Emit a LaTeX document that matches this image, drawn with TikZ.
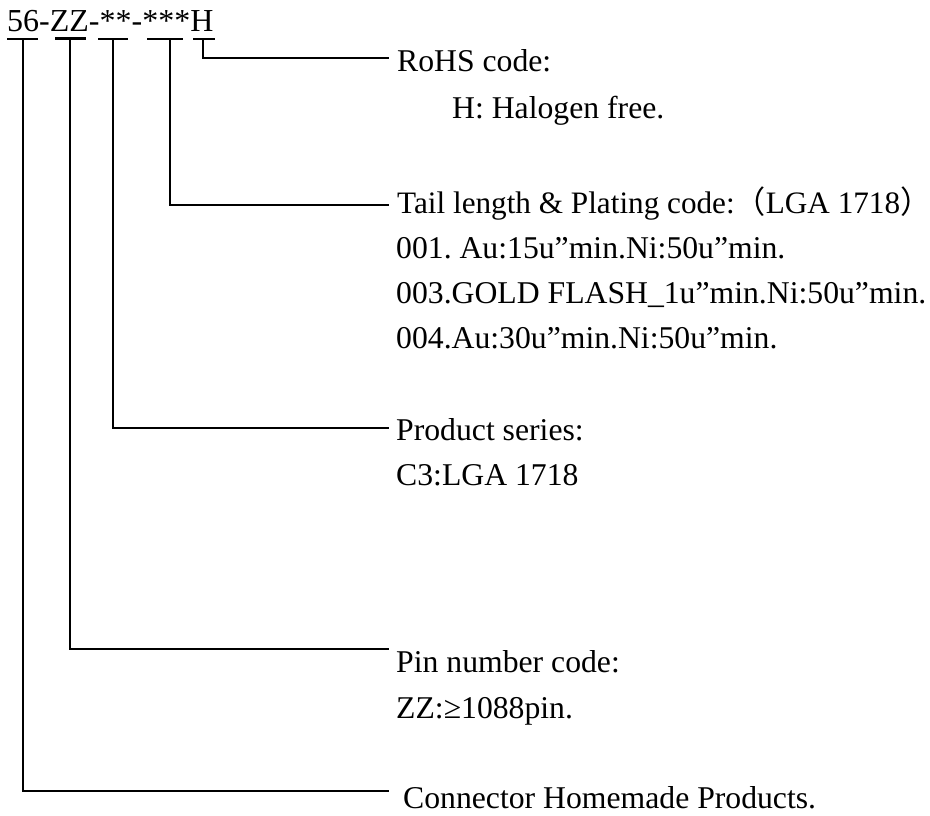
\documentclass[tikz,border=0pt]{standalone}
\usepackage{fontspec}
\setmainfont{Liberation Serif}
\newfontfamily\cjk{Noto Sans CJK SC}
\frenchspacing
\begin{document}
\begin{tikzpicture}[x=1pt,y=-1pt,
  txt/.style={anchor=base west, inner sep=0pt, font=\fontsize{31.7}{32}\selectfont},
  lead/.style={line width=1.8pt, black},
  uline/.style={line width=2pt, black}]
\useasboundingbox (0,0) rectangle (930,816);
% part number
\node[txt, font=\fontsize{32}{32}\selectfont] (code) at (7,32) {56-ZZ-**-***H};
% underline end points
\coordinate (a1) at (7,39);   \coordinate (a2) at (38,39);
\coordinate (b1) at (55,39);  \coordinate (b2) at (86,39);
\coordinate (c1) at (98,39);  \coordinate (c2) at (128,39);
\coordinate (d1) at (147,39); \coordinate (d2) at (183,39);
\coordinate (f1) at (193,39); \coordinate (f2) at (215,39);
\draw[uline] (a1) -- (a2);
\draw[uline, line width=3pt] (b1) -- (b2);
\draw[uline] (c1) -- (c2);
\draw[uline] (d1) -- (d2);
\draw[uline] (f1) -- (f2);
% leader start and end points
\coordinate (va) at (23,39);  \coordinate (ea) at (389,791);
\coordinate (vb) at (70,39);  \coordinate (eb) at (389,649);
\coordinate (vc) at (113,39); \coordinate (ec) at (389,428);
\coordinate (vd) at (170,39); \coordinate (ed) at (389,205);
\coordinate (vf) at (203,39); \coordinate (ef) at (389,58);
\draw[lead] (va) |- (ea);
\draw[lead] (vb) |- (eb);
\draw[lead] (vc) |- (ec);
\draw[lead] (vd) |- (ed);
\draw[lead] (vf) |- (ef);
% labels
\node[txt] (rohs)  at (397,72)  {RoHS code:};
\node[txt] (rohsb) at (452,118) {H: Halogen free.};
\node[txt, font=\fontsize{31.2}{32}\selectfont] (tail) at (397,213) {Tail length \& Plating code:{\cjk （}LGA 1718\makebox[0.4em][l]{\cjk ）}};
\node[txt] (taila) at (396,258) {001. Au:15u”min.Ni:50u”min.};
\node[txt] (tailb) at (396,303) {003.GOLD FLASH\_1u”min.Ni:50u”min.};
\node[txt] (tailc) at (396,348) {004.Au:30u”min.Ni:50u”min.};
\node[txt] (ps)    at (396,440) {Product series:};
\node[txt] (psb)   at (396,485) {C3:LGA 1718};
\node[txt] (pin)   at (396,672) {Pin number code:};
\node[txt] (pinb)  at (396,718) {ZZ:≥1088pin.};
\node[txt] (conn)  at (403,808) {Connector Homemade Products.};
\end{tikzpicture}
\end{document}
